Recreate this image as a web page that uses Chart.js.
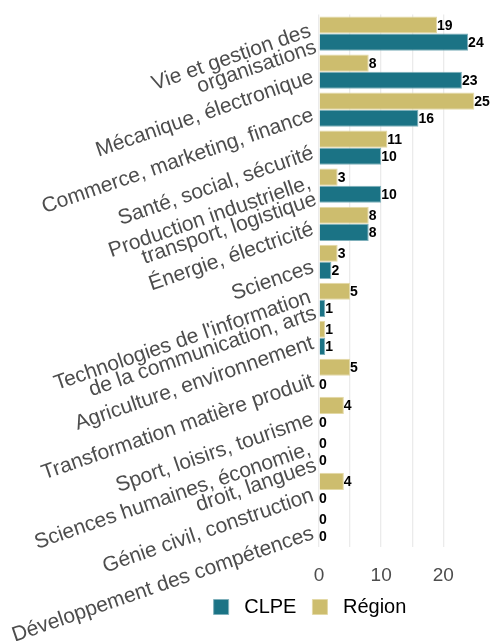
<!DOCTYPE html>
<html lang="fr">
<head>
<meta charset="utf-8">
<script src="https://cdn.jsdelivr.net/npm/chart.js@4.4.1/dist/chart.umd.min.js"></script>
<style>
  html, body { margin: 0; padding: 0; background: #fff; }
  #wrap { width: 490px; height: 641px; }
</style>
</head>
<body>
<div id="wrap"><canvas id="myChart"></canvas></div>
<script>
// categories, top to bottom
const categories = [
  ['Vie et gestion des', 'organisations'],
  'Mécanique, électronique',
  'Commerce, marketing, finance',
  'Santé, social, sécurité',
  ['Production industrielle,', 'transport, logistique'],
  'Énergie, électricité',
  'Sciences',
  ["Technologies de l'information", 'de la communication, arts'],
  'Agriculture, environnement',
  'Transformation matière produit',
  'Sport, loisirs, tourisme',
  ['Sciences humaines, économie,', 'droit, langues'],
  'Génie civil, construction',
  'Développement des compétences'
];

const regionValues = [19, 8, 25, 11, 3, 8, 3, 5, 1, 5, 4, 0, 4, 0];
const clpeValues = [24, 23, 16, 10, 10, 8, 2, 1, 1, 0, 0, 0, 0, 0];

const xTickLabels = [0, 10, 20];

const TEAL = '#1b7385';
const GOLD = '#cdbd6e';
const FONT = "'Liberation Sans', Arial, sans-serif";

// value written at the end of each bar
const barValues = {
  id: 'barValues',
  afterDatasetsDraw(chart) {
    const ctx = chart.ctx;
    ctx.save();
    ctx.font = 'bold 14px ' + FONT;
    ctx.fillStyle = '#000';
    ctx.textAlign = 'left';
    ctx.textBaseline = 'middle';
    chart.data.datasets.forEach((ds, i) => {
      const meta = chart.getDatasetMeta(i);
      meta.data.forEach((bar, j) => {
        ctx.fillText(String(ds.data[j]), bar.x, bar.y + 1);
      });
    });
    ctx.restore();
  }
};

// push the legend under the plot instead of the middle of the canvas
const legendShift = {
  id: 'legendShift',
  afterLayout(chart) {
    const lg = chart.legend;
    if (!lg) return;
    lg.left += 66;
    lg.right += 66;
  }
};

function initChart() {
  const ctx = document.getElementById('myChart');

  return new Chart(ctx, {
    type: 'bar',
    data: {
      labels: categories,
      datasets: [
        {
          label: 'Région',
          data: regionValues,
          backgroundColor: GOLD,
          borderColor: '#e3d9a6',
          borderWidth: 1,
          categoryPercentage: 0.9,
          barPercentage: 1.0
        },
        {
          label: 'CLPE',
          data: clpeValues,
          backgroundColor: TEAL,
          borderColor: '#7fb0bb',
          borderWidth: 1,
          categoryPercentage: 0.9,
          barPercentage: 1.0
        }
      ]
    },
    plugins: [barValues, legendShift],
    options: {
      indexAxis: 'y',
      responsive: true,
      maintainAspectRatio: false,
      animation: false,
      layout: { padding: { top: 13, right: 2, bottom: 14, left: 0 } },
      scales: {
        x: {
          min: 0,
          max: 27.2,
          afterBuildTicks: (scale) => {
            scale.ticks = scale.ticks.filter(t => t.value % 5 === 0);
          },
          afterFit: (scale) => { scale.height = 34; },
          ticks: {
            stepSize: 5,
            color: '#4d4d4d',
            font: { family: FONT, size: 19 },
            padding: 17,
            callback: (v) => xTickLabels.includes(v) ? String(v) : ''
          },
          grid: { color: '#ebebeb', lineWidth: 1.3, drawTicks: false },
          border: { display: false }
        },
        y: {
          afterFit: (scale) => { scale.width = 319; },
          ticks: {
            color: '#4d4d4d',
            font: { family: FONT, size: 21, lineHeight: 0.82 },
            minRotation: 19,
            maxRotation: 19,
            padding: 6,
            labelOffset: 5,
            autoSkip: false
          },
          grid: { display: false, drawTicks: false },
          border: { display: false }
        }
      },
      plugins: {
        legend: {
          position: 'bottom',
          reverse: true,
          labels: {
            color: '#000',
            font: { family: FONT, size: 20 },
            boxWidth: 15,
            boxHeight: 15,
            padding: 16,
            generateLabels: (chart) => {
              const items = Chart.defaults.plugins.legend.labels.generateLabels(chart);
              items.forEach(it => { it.text = ' ' + it.text; });
              return items;
            }
          }
        },
        tooltip: { enabled: false }
      }
    }
  });
}

document.addEventListener('DOMContentLoaded', () => initChart());
</script>
</body>
</html>
